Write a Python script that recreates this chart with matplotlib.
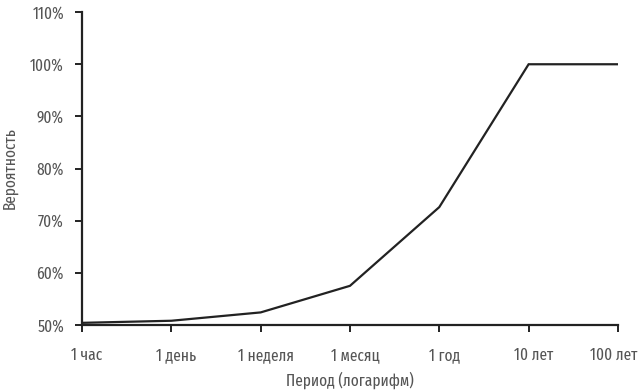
import matplotlib.pyplot as plt
from matplotlib.ticker import FuncFormatter
from matplotlib.transforms import ScaledTranslation

periods = ["1 час", "1 день", "1 неделя", "1 месяц", "1 год", "10 лет", "100 лет"]
probability = [0.504, 0.508, 0.524, 0.575, 0.726, 1.0, 1.0]
yticks = [0.5, 0.6, 0.7, 0.8, 0.9, 1.0, 1.1]

plt.rcParams['font.family'] = ['Fira Sans Extra Condensed', 'DejaVu Sans']
txt = '#555555'

fig = plt.figure(figsize=(6.41, 3.91), dpi=100)
ax = fig.add_axes([0.128, 0.169, 0.836, 0.8])

x = list(range(len(periods)))
ax.plot(x, probability, color='#222222', lw=1.6, solid_joinstyle='miter')

ax.set_xlim(0, len(periods) - 1)
ax.set_ylim(0.5, 1.1)
ax.set_xticks(x)
ax.set_xticklabels(periods)
ax.set_yticks(yticks)
ax.yaxis.set_major_formatter(FuncFormatter(lambda v, p: f"{round(v*100)}%"))

for s in ['top', 'right']:
    ax.spines[s].set_visible(False)
for s in ['left', 'bottom']:
    ax.spines[s].set_linewidth(1.6)
    ax.spines[s].set_color('#222222')

ax.tick_params(axis='both', direction='out', length=5, width=1.4, color='#222222',
               labelcolor=txt, labelsize=12)
ax.tick_params(axis='x', pad=11)
ax.tick_params(axis='y', pad=8)

# labels sit a little right of their ticks in the original, the last one a bit left
labs = ax.get_xticklabels()
for i, lab in enumerate(labs):
    dx = -4 if i == len(labs) - 1 else 5
    lab.set_transform(lab.get_transform() + ScaledTranslation(dx / 100, 0, fig.dpi_scale_trans))

ax.set_xlabel("Период (логарифм)", color=txt, fontsize=12)
ax.set_ylabel("Вероятность", color=txt, fontsize=12)
ax.xaxis.set_label_coords(0.5, -0.15)
ax.yaxis.set_label_coords(-0.12, 0.5)

fig.savefig("out.png", dpi=100)
